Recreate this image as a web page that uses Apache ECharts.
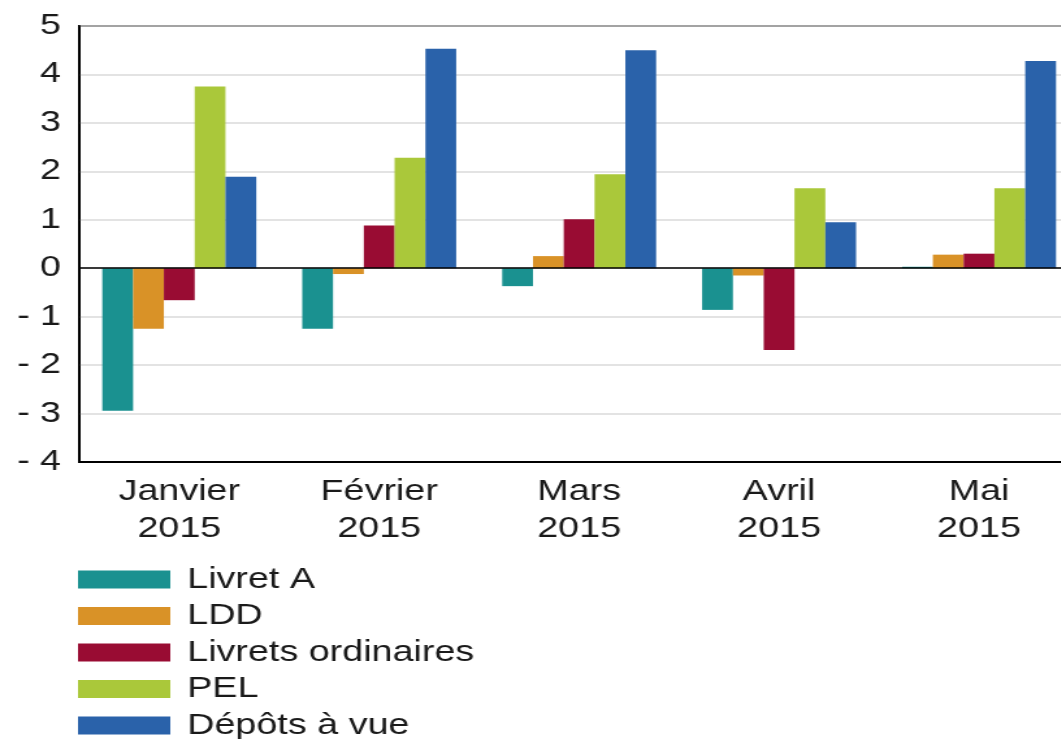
<!DOCTYPE html>
<html>
<head>
<meta charset="utf-8">
<script src="https://cdn.jsdelivr.net/npm/echarts@6/dist/echarts.min.js"></script>
<style>
  html, body { margin: 0; padding: 0; background: #fff; overflow: hidden; }
  /* the reference chart is horizontally stretched; reproduce that stretch */
  #chart { width: 816px; height: 739px; transform: scaleX(1.3); transform-origin: 0 0; }
</style>
</head>
<body>
<div id="chart"></div>
<script>
const months = ['Janvier', 'Février', 'Mars', 'Avril', 'Mai'];
const years = ['2015', '2015', '2015', '2015', '2015'];
const seriesNames = ['Livret A', 'LDD', 'Livrets ordinaires', 'PEL', 'Dépôts à vue'];
const livretA = [-2.94, -1.25, -0.37, -0.86, 0.03];
const ldd = [-1.25, -0.12, 0.25, -0.15, 0.28];
const livretsOrdinaires = [-0.66, 0.88, 1.01, -1.69, 0.30];
const pel = [3.75, 2.28, 1.94, 1.65, 1.65];
const depotsAVue = [1.89, 4.53, 4.50, 0.95, 4.28];
const yTicks = [-4, -3, -2, -1, 0, 1, 2, 3, 4, 5];

const colors = ['#1a9190', '#d99227', '#990c33', '#aac83a', '#2a62aa'];
const seriesData = [livretA, ldd, livretsOrdinaires, pel, depotsAVue];
const categories = months.map((m, i) => m + '\n' + years[i]);
const FONT = "'Liberation Sans', Arial, Helvetica, sans-serif";

const chart = echarts.init(document.getElementById('chart'));
chart.setOption({
  animation: false,
  backgroundColor: '#fff',
  color: colors,
  textStyle: { fontFamily: FONT },
  grid: {
    left: 61, top: 26, width: 769, height: 436,
    outerBoundsMode: 'none', containLabel: false,
    show: true, borderColor: '#000', borderWidth: 2, backgroundColor: 'transparent'
  },
  legend: {
    orient: 'vertical',
    left: 60, top: 565, height: 260,
    padding: 0,
    itemWidth: 71, itemHeight: 18, itemGap: 7.5,
    icon: 'rect',
    selectedMode: false,
    data: seriesNames,
    textStyle: { fontFamily: FONT, fontSize: 29, color: '#1a1a1a', lineHeight: 29, padding: [0, 0, 0, 8] }
  },
  xAxis: {
    type: 'category',
    data: categories,
    axisLine: { onZero: false, lineStyle: { color: '#000', width: 2 } },
    axisTick: { show: false },
    axisLabel: { fontFamily: FONT, fontSize: 29, color: '#1a1a1a', lineHeight: 37, margin: 11, interval: 0 }
  },
  yAxis: {
    type: 'value',
    min: yTicks[0], max: yTicks[yTicks.length - 1], interval: 1,
    axisLine: { show: true, lineStyle: { color: '#000', width: 1.8 } },
    axisTick: { show: false },
    splitLine: { lineStyle: { color: '#dadada', width: 1.5 } },
    axisLabel: {
      fontFamily: FONT, fontSize: 29, color: '#1a1a1a', margin: 14,
      formatter: v => v < 0 ? '- ' + Math.abs(v) : String(v)
    }
  },
  series: seriesNames.map((name, i) => ({
    name: name,
    type: 'bar',
    data: seriesData[i],
    barGap: '0%',
    barCategoryGap: '23%',
    itemStyle: { color: colors[i] },
    markLine: i === 0 ? {
      silent: true, symbol: ['none', 'none'], label: { show: false },
      lineStyle: { color: '#000', width: 1.5, type: 'solid' },
      data: [{ yAxis: 0 }]
    } : undefined
  }))
});
</script>
</body>
</html>
